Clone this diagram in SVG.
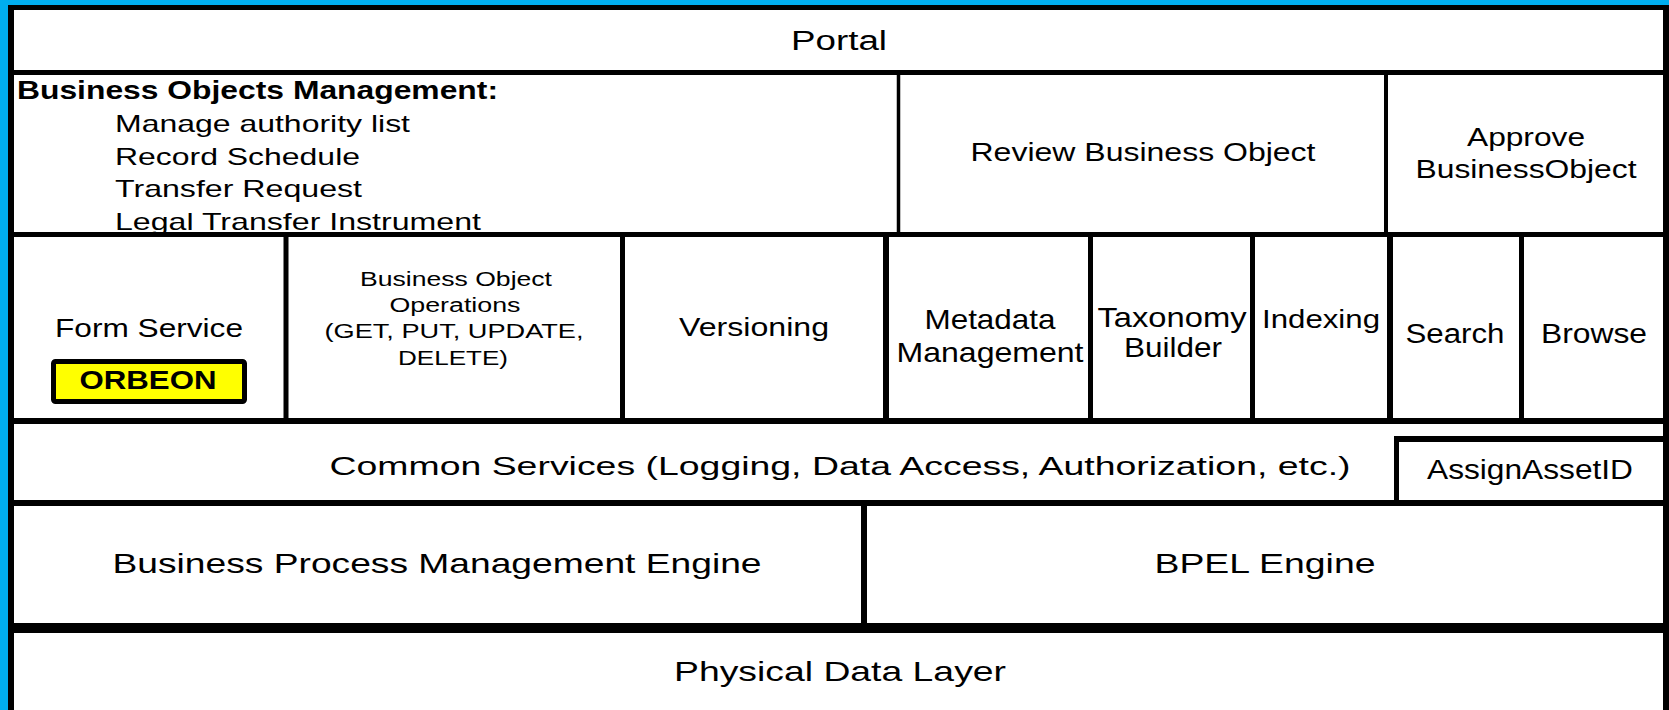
<svg xmlns="http://www.w3.org/2000/svg" width="1669" height="710" viewBox="0 0 1669 710">
<style>
.t{font-family:"Liberation Sans",Arial,Helvetica,sans-serif;fill:#000}
.c{text-anchor:middle}
.b{font-weight:bold}
.cell{fill:#fff}
.ln{stroke:#000;fill:none;stroke-linecap:butt}
</style>
<rect x="0" y="0" width="1669" height="710" fill="#00AEEF"/>
<rect x="8" y="5" width="1661" height="705" fill="#fff"/>

<g id="portal">
<rect class="cell" x="11" y="7" width="1655" height="66"/>
<text class="t c" x="839" y="50" font-size="27" textLength="96" lengthAdjust="spacingAndGlyphs">Portal</text>
</g>

<g id="bom">
<rect class="cell" x="11" y="73" width="887" height="162"/>
<text class="t b" x="17" y="99" font-size="25" textLength="481" lengthAdjust="spacingAndGlyphs">Business Objects Management:</text>
<text class="t" x="115" y="132" font-size="24" textLength="295" lengthAdjust="spacingAndGlyphs">Manage authority list</text>
<text class="t" x="115" y="165" font-size="24" textLength="245" lengthAdjust="spacingAndGlyphs">Record Schedule</text>
<text class="t" x="115" y="197" font-size="24" textLength="247" lengthAdjust="spacingAndGlyphs">Transfer Request</text>
<text class="t" x="115" y="230" font-size="24" textLength="366" lengthAdjust="spacingAndGlyphs">Legal Transfer Instrument</text>
</g>

<g id="review">
<rect class="cell" x="898" y="73" width="488" height="162"/>
<text class="t c" x="1143" y="161" font-size="26" textLength="345" lengthAdjust="spacingAndGlyphs">Review Business Object</text>
</g>

<g id="approve">
<rect class="cell" x="1386" y="73" width="280" height="162"/>
<text class="t c" x="1526" y="146" font-size="26" textLength="118" lengthAdjust="spacingAndGlyphs">Approve</text>
<text class="t c" x="1526" y="178" font-size="26" textLength="221" lengthAdjust="spacingAndGlyphs">BusinessObject</text>
</g>

<g id="form-service">
<rect class="cell" x="11" y="235" width="275" height="186"/>
<text class="t c" x="149" y="337" font-size="26" textLength="188" lengthAdjust="spacingAndGlyphs">Form Service</text>
<rect x="53.5" y="361.5" width="191" height="40" rx="2" fill="#FFFF00" stroke="#000" stroke-width="5"/>
<text class="t c b" x="148" y="389" font-size="26" textLength="137" lengthAdjust="spacingAndGlyphs">ORBEON</text>
</g>

<g id="bo-operations">
<rect class="cell" x="286" y="235" width="336" height="186"/>
<text class="t c" x="456" y="286" font-size="19.5" textLength="192" lengthAdjust="spacingAndGlyphs">Business Object</text>
<text class="t c" x="455" y="312" font-size="19.5" textLength="131" lengthAdjust="spacingAndGlyphs">Operations</text>
<text class="t c" x="454" y="338" font-size="19.5" textLength="259" lengthAdjust="spacingAndGlyphs">(GET, PUT, UPDATE,</text>
<text class="t c" x="453" y="365" font-size="19.5" textLength="110" lengthAdjust="spacingAndGlyphs">DELETE)</text>
</g>

<g id="versioning">
<rect class="cell" x="622" y="235" width="264" height="186"/>
<text class="t c" x="754" y="336" font-size="26" textLength="150" lengthAdjust="spacingAndGlyphs">Versioning</text>
</g>

<g id="metadata">
<rect class="cell" x="886" y="235" width="204" height="186"/>
<text class="t c" x="990" y="329" font-size="28" textLength="131" lengthAdjust="spacingAndGlyphs">Metadata</text>
<text class="t c" x="990" y="362" font-size="28" textLength="187" lengthAdjust="spacingAndGlyphs">Management</text>
</g>

<g id="taxonomy">
<rect class="cell" x="1090" y="235" width="162" height="186"/>
<text class="t c" x="1172" y="327" font-size="28" textLength="149" lengthAdjust="spacingAndGlyphs">Taxonomy</text>
<text class="t c" x="1173" y="357" font-size="28" textLength="98" lengthAdjust="spacingAndGlyphs">Builder</text>
</g>

<g id="indexing">
<rect class="cell" x="1252" y="235" width="138" height="186"/>
<text class="t c" x="1321" y="328" font-size="26" textLength="118" lengthAdjust="spacingAndGlyphs">Indexing</text>
</g>

<g id="search">
<rect class="cell" x="1390" y="235" width="131" height="186"/>
<text class="t c" x="1455" y="343" font-size="27" textLength="99" lengthAdjust="spacingAndGlyphs">Search</text>
</g>

<g id="browse">
<rect class="cell" x="1521" y="235" width="145" height="186"/>
<text class="t c" x="1594" y="343" font-size="27" textLength="106" lengthAdjust="spacingAndGlyphs">Browse</text>
</g>

<g id="common-services">
<rect class="cell" x="11" y="421" width="1655" height="82"/>
<text class="t c" x="840" y="475" font-size="26" textLength="1021" lengthAdjust="spacingAndGlyphs">Common Services (Logging, Data Access, Authorization, etc.)</text>
</g>

<g id="assign-asset-id">
<rect class="cell" x="1396" y="439" width="270" height="64"/>
<text class="t c" x="1530" y="479" font-size="27" textLength="206" lengthAdjust="spacingAndGlyphs">AssignAssetID</text>
</g>

<g id="bpm-engine">
<rect class="cell" x="11" y="503" width="853" height="125"/>
<text class="t c" x="437" y="573" font-size="28" textLength="649" lengthAdjust="spacingAndGlyphs">Business Process Management Engine</text>
</g>

<g id="bpel-engine">
<rect class="cell" x="864" y="503" width="802" height="125"/>
<text class="t c" x="1265" y="573" font-size="28" textLength="221" lengthAdjust="spacingAndGlyphs">BPEL Engine</text>
</g>

<g id="physical-data-layer">
<rect class="cell" x="11" y="628" width="1655" height="82"/>
<text class="t c" x="840" y="681" font-size="28" textLength="332" lengthAdjust="spacingAndGlyphs">Physical Data Layer</text>
</g>

<g id="connectors">
<line class="ln" x1="11" y1="5" x2="11" y2="710" stroke-width="6"/>
<line class="ln" x1="1666" y1="5" x2="1666" y2="710" stroke-width="6"/>
<line class="ln" x1="8" y1="7.5" x2="1669" y2="7.5" stroke-width="5"/>
<line class="ln" x1="8" y1="72.5" x2="1669" y2="72.5" stroke-width="5"/>
<line class="ln" x1="8" y1="234.5" x2="1669" y2="234.5" stroke-width="5"/>
<line class="ln" x1="8" y1="421" x2="1669" y2="421" stroke-width="6"/>
<line class="ln" x1="8" y1="503" x2="1669" y2="503" stroke-width="6"/>
<line class="ln" x1="8" y1="628" x2="1669" y2="628" stroke-width="10"/>
<line class="ln" x1="898.5" y1="72.5" x2="898.5" y2="234.5" stroke-width="3.5"/>
<line class="ln" x1="1386" y1="72.5" x2="1386" y2="234.5" stroke-width="4"/>
<line class="ln" x1="286" y1="234.5" x2="286" y2="421" stroke-width="5"/>
<line class="ln" x1="622.5" y1="234.5" x2="622.5" y2="424" stroke-width="5"/>
<line class="ln" x1="886" y1="234.5" x2="886" y2="421" stroke-width="6"/>
<line class="ln" x1="1090.5" y1="234.5" x2="1090.5" y2="421" stroke-width="5"/>
<line class="ln" x1="1252.5" y1="234.5" x2="1252.5" y2="421" stroke-width="5"/>
<line class="ln" x1="1390" y1="234.5" x2="1390" y2="421" stroke-width="6"/>
<line class="ln" x1="1521.5" y1="234.5" x2="1521.5" y2="421" stroke-width="5"/>
<line class="ln" x1="1396.5" y1="436" x2="1396.5" y2="503" stroke-width="5"/>
<line class="ln" x1="1394" y1="439" x2="1669" y2="439" stroke-width="6"/>
<line class="ln" x1="864" y1="503" x2="864" y2="628" stroke-width="6"/>
</g>
</svg>
